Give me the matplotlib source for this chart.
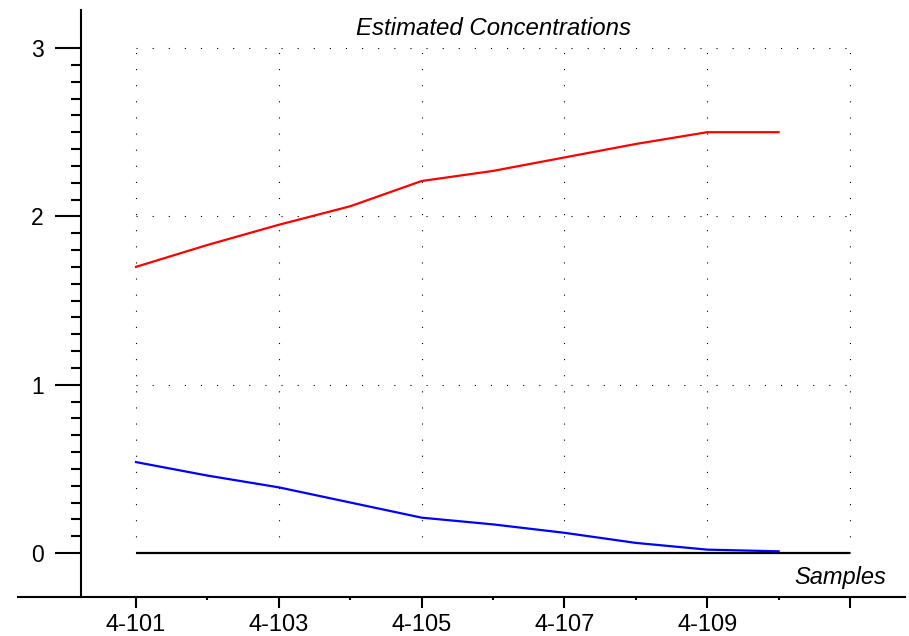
import matplotlib.pyplot as plt
from matplotlib.ticker import FixedLocator

# sample names on the x axis (one per point)
samples = ['4-101', '4-102', '4-103', '4-104', '4-105',
           '4-106', '4-107', '4-108', '4-109', '4-110']
red_values = [1.70, 1.83, 1.95, 2.06, 2.21, 2.27, 2.35, 2.43, 2.50, 2.50]
blue_values = [0.54, 0.46, 0.39, 0.30, 0.21, 0.17, 0.12, 0.06, 0.02, 0.01]
y_major = [0, 1, 2, 3]

plt.rcParams['font.family'] = ['Liberation Sans', 'DejaVu Sans']

fig = plt.figure(figsize=(9.09, 6.36), dpi=100)
ax = fig.add_axes([18 / 909, 39 / 636, 887 / 909, 587 / 636])

xs = list(range(len(samples)))
n_ticks = len(samples) + 1
ax.set_xlim(-1.653, 10.77)
ax.set_ylim(-0.2614, 3.226)

# dotted grid at the major positions
dots = (0, (1, 13.5))
ax.hlines(y_major[1:], 0, n_ticks - 1, colors='black', linewidth=0.8,
          linestyles=[dots], zorder=1)
ax.vlines(range(0, n_ticks, 2), 0, y_major[-1], colors='black',
          linewidth=0.8, linestyles=[dots], zorder=1)
ax.hlines(0, 0, n_ticks - 1, colors='black', linewidth=1.6, zorder=2)

ax.plot(xs, red_values, color='#ff0000', linewidth=1.6, zorder=3)
ax.plot(xs, blue_values, color='#0000ff', linewidth=1.6, zorder=3)

# axes styling
for side in ['top', 'right']:
    ax.spines[side].set_visible(False)
ax.spines['left'].set_position(('data', -0.770))
ax.spines['left'].set_linewidth(1.5)
ax.spines['bottom'].set_linewidth(1.5)

ax.yaxis.set_major_locator(FixedLocator(y_major))
ax.yaxis.set_minor_locator(FixedLocator(
    [i / 10 for i in range(1, 30) if i % 10 != 0]))
ax.xaxis.set_major_locator(FixedLocator(list(range(0, n_ticks, 2))))
ax.xaxis.set_minor_locator(FixedLocator(list(range(1, n_ticks, 2))))
xlabels = [samples[i] if i < len(samples) else '' for i in range(0, n_ticks, 2)]
ax.set_xticklabels(xlabels)
ax.set_yticklabels([str(v) for v in y_major])

ax.tick_params(axis='y', which='major', direction='out', length=19,
               width=1.5, pad=8, labelsize=16.5)
ax.tick_params(axis='y', which='minor', direction='out', length=7.5,
               width=1.5)
ax.tick_params(axis='x', which='major', direction='out', length=8,
               width=1.5, pad=4, labelsize=17)
ax.tick_params(axis='x', which='minor', direction='out', length=2.5,
               width=1.5)

ax.text(5.01, 3.119, 'Estimated Concentrations', fontsize=17.3,
        fontstyle='italic', ha='center', va='center')
ax.text(10.50, -0.143, 'Samples', fontsize=17, fontstyle='italic',
        ha='right', va='center')

fig.savefig('out.png', dpi=100)
